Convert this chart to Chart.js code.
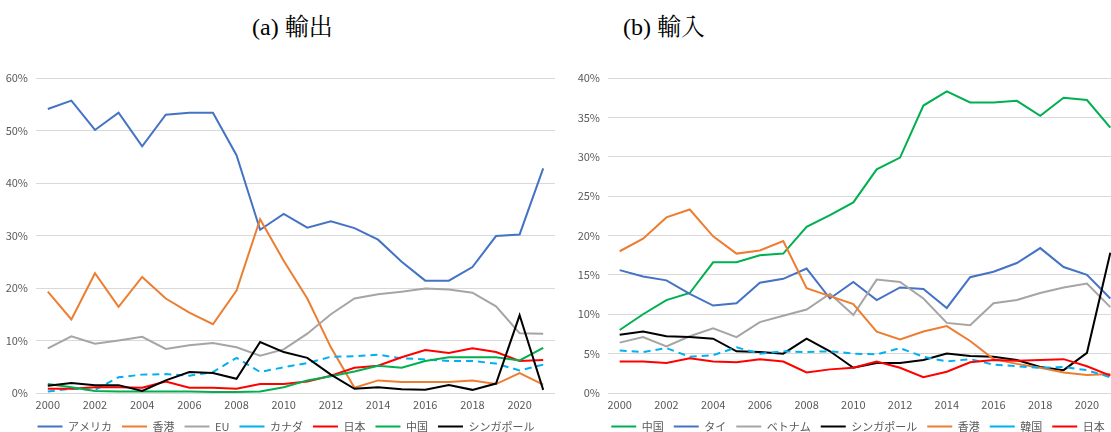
<!DOCTYPE html>
<html>
<head>
<meta charset="utf-8">
<script src="https://cdn.jsdelivr.net/npm/chart.js@4"></script>
<style>
  html, body { margin:0; padding:0; background:#fff; }
  body { width:1111px; height:432px; position:relative; overflow:hidden; }
  .box { position:absolute; top:0; height:432px; overflow:hidden; }
  .title { position:absolute; font-family:"Liberation Serif","Noto Serif CJK JP","Noto Sans CJK JP",serif; font-size:24px; color:#000; line-height:1; white-space:nowrap; }
</style>
</head>
<body>
<div class="title" style="left:252px; top:15px;">(a) 輸出</div>
<div class="title" style="left:623px; top:15px;">(b) 輸入</div>
<div class="box" style="left:0; width:560px;"><canvas id="cA" width="560" height="442"></canvas></div>
<div class="box" style="left:560px; width:551px;"><canvas id="cB" width="562" height="442"></canvas></div>
<script>
const years = ['2000','2001','2002','2003','2004','2005','2006','2007','2008','2009','2010','2011','2012','2013','2014','2015','2016','2017','2018','2019','2020','2021'];
const xTickLabels = ['2000','','2002','','2004','','2006','','2008','','2010','','2012','','2014','','2016','','2018','','2020',''];

// (a) 輸出
const exAmerica   = [54.1,55.7,50.1,53.4,47.0,53.0,53.4,53.4,45.3,31.1,34.1,31.5,32.7,31.4,29.2,25.0,21.4,21.4,24.0,29.9,30.2,42.8];
const exHongKong  = [19.3,14.0,22.8,16.4,22.1,18.0,15.3,13.1,19.5,33.1,25.2,18.0,8.7,1.0,2.4,2.1,2.1,2.1,2.4,1.7,3.8,1.6];
const exEU        = [8.5,10.8,9.4,10.0,10.7,8.4,9.1,9.5,8.7,7.1,8.3,11.3,15.0,18.0,18.8,19.3,19.9,19.7,19.1,16.5,11.4,11.3];
const exCanada    = [0.3,0.8,0.6,3.0,3.5,3.6,3.3,4.0,6.7,4.0,4.9,5.7,6.9,7.0,7.3,6.6,6.4,6.1,6.1,5.6,4.3,5.4];
const exJapan     = [0.8,0.8,1.1,1.1,1.0,2.2,1.0,1.0,0.8,1.7,1.7,2.2,3.3,4.8,5.2,6.8,8.2,7.6,8.5,7.8,6.1,6.3];
const exChina     = [1.7,1.1,0.4,0.3,0.3,0.3,0.3,0.2,0.2,0.3,1.1,2.4,3.2,4.1,5.2,4.8,6.1,6.8,6.8,6.8,6.2,8.6];
const exSingapore = [1.4,1.9,1.5,1.5,0.4,2.4,4.0,3.8,2.7,9.7,7.8,6.7,3.5,0.8,1.1,0.7,0.6,1.5,0.6,1.8,14.8,0.6];

// (b) 輸入
const imChina     = [8.0,10.0,11.8,12.7,16.6,16.6,17.5,17.7,21.1,22.6,24.2,28.4,29.9,36.5,38.3,36.9,36.9,37.1,35.2,37.5,37.2,33.7];
const imThailand  = [15.6,14.8,14.3,12.6,11.1,11.4,14.0,14.5,15.8,12.0,14.1,11.8,13.4,13.2,10.8,14.7,15.4,16.5,18.4,16.0,15.0,12.0];
const imVietnam   = [6.4,7.1,5.9,7.2,8.2,7.1,9.0,9.8,10.6,12.6,9.9,14.4,14.1,12.0,8.9,8.6,11.4,11.8,12.7,13.4,13.9,10.9];
const imSingapore = [7.4,7.8,7.2,7.1,6.9,5.3,5.2,5.0,6.9,5.3,3.2,3.8,3.8,4.2,5.0,4.7,4.6,4.2,3.3,2.9,5.1,17.8];
const imHongKong  = [18.0,19.6,22.3,23.3,19.9,17.7,18.1,19.3,13.3,12.3,11.3,7.8,6.8,7.8,8.5,6.6,4.3,3.7,3.2,2.6,2.3,2.4];
const imKorea     = [5.4,5.2,5.7,4.6,4.8,5.8,5.0,5.3,5.2,5.3,5.0,4.9,5.7,4.6,4.0,4.3,3.6,3.4,3.2,3.3,2.9,2.0];
const imJapan     = [4.0,4.0,3.8,4.4,4.0,3.9,4.3,4.0,2.6,3.0,3.2,4.0,3.2,2.0,2.7,3.9,4.2,4.1,4.2,4.3,3.4,2.2];

const C = { blue:'#4472C4', orange:'#ED7D31', gray:'#A5A5A5', cyan:'#00B0F0', red:'#FF0000', green:'#00B050', black:'#000000' };
const FONT = '"Noto Sans CJK JP", "Noto Sans", sans-serif';

const shiftLegend = {
  id: 'shiftLegend',
  afterLayout(chart, args, opts) {
    const l = chart.legend;
    if (l && opts.dx) { l.left += opts.dx; l.right += opts.dx; }
  }
};

function ds(label, data, color, dashed, i, n) {
  return { label, data, borderColor: color, backgroundColor: color, borderWidth: 2,
    borderDash: dashed ? [7,5] : [], pointRadius: 0, pointHoverRadius: 0, tension: 0, fill: false, order: n - i };
}

function makeChart(id, series, yMax, yStep, yWidth, padRight, legendDx) {
  const n = series.length;
  return new Chart(document.getElementById(id), {
    type: 'line',
    data: { labels: years, datasets: series.map((s, i) => ds(s[0], s[1], s[2], s[3], i, n)) },
    plugins: [shiftLegend],
    options: {
      responsive: false, animation: false, devicePixelRatio: 1,
      layout: { padding: { left: 0, right: padRight, top: 78, bottom: 0 } },
      plugins: {
        shiftLegend: { dx: legendDx },
        tooltip: { enabled: false },
        legend: {
          position: 'bottom',
          labels: {
            usePointStyle: true, pointStyle: 'line', pointStyleWidth: 25, boxHeight: 11,
            padding: 10, color: '#595959', font: { family: FONT, size: 11 },
            sort: (a, b) => a.datasetIndex - b.datasetIndex
          }
        }
      },
      scales: {
        x: {
          offset: true,
          grid: { display: false, drawTicks: false },
          border: { display: false },
          ticks: { autoSkip: false, maxRotation: 0, minRotation: 0, padding: 5, color: '#595959',
            font: { family: FONT, size: 11 },
            callback: (v, i) => xTickLabels[i] },
          afterFit: (s) => { s.height = 18; }
        },
        y: {
          min: 0, max: yMax,
          grid: { color: '#D9D9D9', lineWidth: 1, drawTicks: false },
          border: { display: false },
          ticks: { stepSize: yStep, padding: 8, color: '#595959', font: { family: FONT, size: 11 },
            callback: (v) => v + '%' },
          afterFit: (s) => { s.width = yWidth; }
        }
      }
    }
  });
}

makeChart('cA', [
  ['アメリカ', exAmerica, C.blue, false],
  ['香港', exHongKong, C.orange, false],
  ['EU', exEU, C.gray, false],
  ['カナダ', exCanada, C.cyan, true],
  ['日本', exJapan, C.red, false],
  ['中国', exChina, C.green, false],
  ['シンガポール', exSingapore, C.black, false]
], 60, 10, 36, 5, 8.5);

makeChart('cB', [
  ['中国', imChina, C.green, false],
  ['タイ', imThailand, C.blue, false],
  ['ベトナム', imVietnam, C.gray, false],
  ['シンガポール', imSingapore, C.black, false],
  ['香港', imHongKong, C.orange, false],
  ['韓国', imKorea, C.cyan, true],
  ['日本', imJapan, C.red, false]
], 40, 5, 48, 0, 17);
</script>
</body>
</html>
